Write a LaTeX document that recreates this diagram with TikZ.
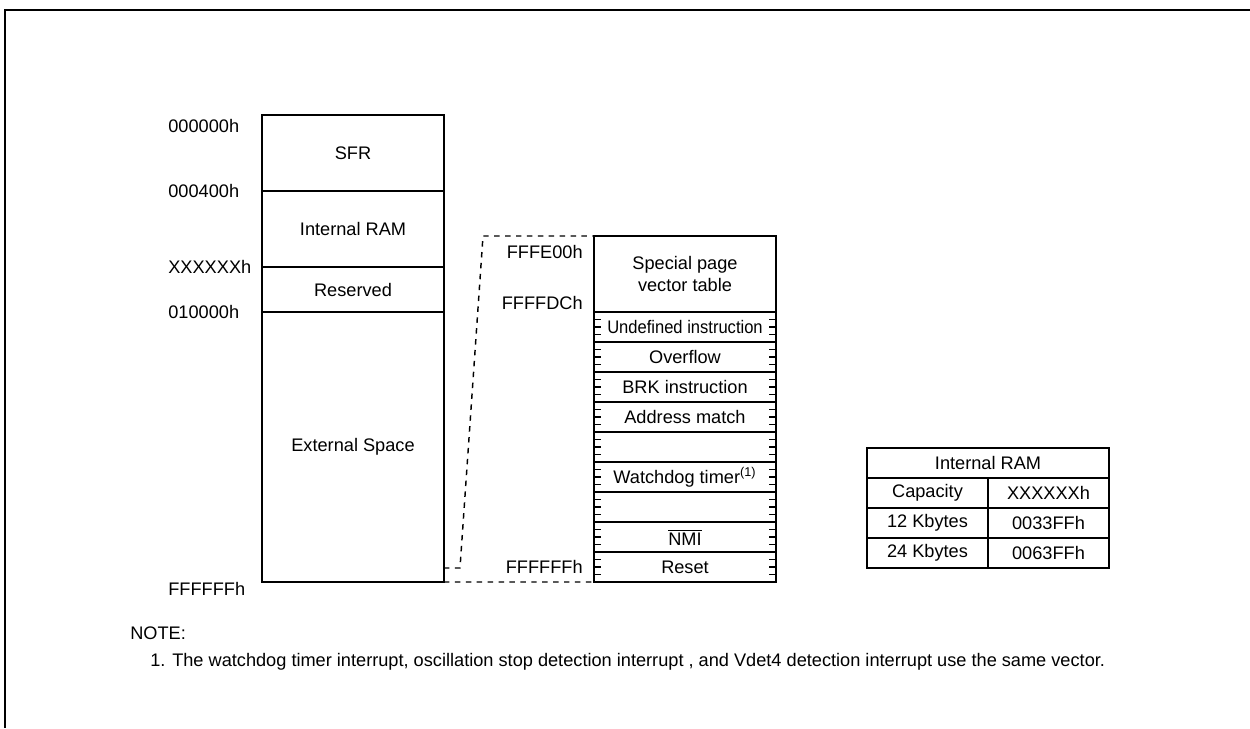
\documentclass[tikz,border=0pt]{standalone}
\usepackage{fontspec}
\setmainfont{Liberation Sans}
\usetikzlibrary{positioning}

\begin{document}
\begin{tikzpicture}[x=0.55pt,y=-0.55pt,font=\fontsize{10}{12}\selectfont,
    area/.style={rectangle,draw,line width=0.8pt,anchor=north west,inner sep=0pt,outer sep=0pt,minimum width=100.1pt,align=center},
    vec/.style={area,minimum height=16.5pt},
    cell/.style={area,minimum width=66.55pt,minimum height=16.5pt},
    tick/.style={line width=0.8pt},
    addr/.style={anchor=west,inner sep=0pt},
    raddr/.style={anchor=east,inner sep=0pt},
    link/.style={dashed,line width=0.8pt}]

    \useasboundingbox (0,0) rectangle (1250,728);
    \draw[line width=1pt] (1250,10) -- (5,10) -- (5,728);

    % memory map
    \node[area,minimum height=41.8pt] at (262,115) (sfr) {SFR};
    \node[area,minimum height=41.8pt] at (262,191) (iram) {Internal RAM};
    \node[area,minimum height=24.75pt] at (262,267) (resv) {Reserved};
    \node[area,minimum height=148.5pt] at (262,312) (ext) {External Space};

    \node[addr] at (168,126) (a0) {000000h};
    \node[addr] at (168,191) (a1) {000400h};
    \node[addr] at (168,267) (a2) {XXXXXXh};
    \node[addr] at (168,312) (a3) {010000h};
    \node[addr] at (168,589) (a4) {FFFFFFh};

    % special page vectors
    \node[area,minimum height=41.8pt] at (594,236) (spv) {Special page\\vector table};
    \foreach \i/\txt in {0/{\scalebox{0.91}[1]{Undefined instruction}},1/Overflow,2/BRK instruction,
        3/Address match,4/{},5/Watchdog timer\textsuperscript{(1)},6/{},7/$\overline{\mbox{NMI}}$,8/Reset} {
        \node[vec] at (594,312+30*\i) (v\i) {\txt};
        \foreach \k in {1,2,3} {
            \draw[tick] (594,312+30*\i+7.5*\k) -- ++(7,0);
            \draw[tick] (776,312+30*\i+7.5*\k) -- ++(-7,0);
        }
    }

    \node[raddr] at (583,252) (b0) {FFFE00h};
    \node[raddr] at (583,303) (b1) {FFFFDCh};
    \node[raddr] at (583,567) (b2) {FFFFFFh};

    % expansion lines
    \coordinate (bend) at (460,568);
    \coordinate (bendtop) at (483,236);
    \draw[link] (ext.east |- bend) -- (bend) -- (bendtop) -- (spv.north west);
    \draw[link] (ext.south east) -- (v8.south west);

    % RAM size table
    \node[area,minimum width=133.1pt,minimum height=16.5pt] at (867,448) (ttl) {Internal RAM};
    \node[cell] at (867,478) (c1) {Capacity};
    \node[cell] at (988,478) (x1) {XXXXXXh};
    \node[cell] at (867,508) (c2) {12 Kbytes};
    \node[cell] at (988,508) (x2) {0033FFh};
    \node[cell] at (867,538) (c3) {24 Kbytes};
    \node[cell] at (988,538) (x3) {0063FFh};

    % note
    \node[addr] at (130,633) (note) {NOTE:};
    \node[addr] at (150,662) (n1) {1. The watchdog timer interrupt, oscillation stop detection interrupt , and Vdet4 detection interrupt use the same vector.};
\end{tikzpicture}
\end{document}
